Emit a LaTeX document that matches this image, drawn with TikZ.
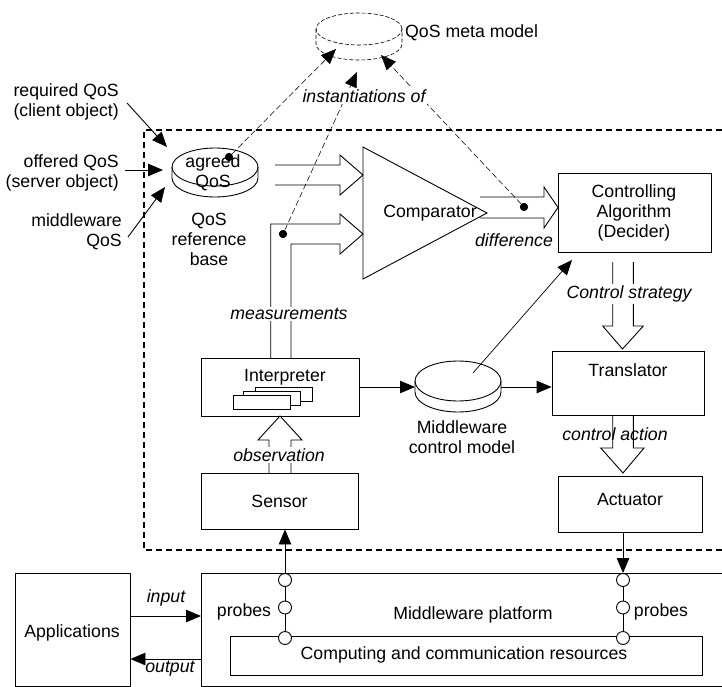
\documentclass[tikz,border=0pt]{standalone}
\usepackage{fontspec}
\setmainfont{Liberation Sans}
\usetikzlibrary{arrows.meta,calc}
\begin{document}
\begin{tikzpicture}[x=1pt,y=-1pt,
  every node/.style={font=\fontsize{17.7}{20}\selectfont, inner sep=0pt},
  ln/.style={line width=0.9pt},
  box/.style={draw, line width=0.9pt, inner sep=0pt},
  lbl/.style={font=\fontsize{17.7}{20}\selectfont\itshape},
  wlbl/.style={lbl, fill=white, inner sep=1.5pt},
  arr/.style={line width=0.9pt, -{Triangle[length=15pt,width=12.5pt]}},
  metaarr/.style={line width=0.55pt, dash pattern=on 6pt off 3pt, -{Triangle[length=15pt,width=12.5pt]}},
  metaline/.style={line width=0.6pt, dash pattern=on 4pt off 2pt},
  frame/.style={line width=1.6pt, dash pattern=on 6pt off 4pt},
  hollow/.style={line width=0.9pt, line join=miter},
  probe/.style={circle, draw, line width=0.9pt, fill=white, minimum size=13pt, inner sep=0pt},
  dot/.style={circle, fill=black, minimum size=8pt, inner sep=0pt}]
\useasboundingbox (0,0) rectangle (722,687);

% dashed frame of the control loop
\draw[frame] (722,130) -- (144,130) -- (144,550) -- (722,550);

% QoS meta model (dashed cylinder)
\draw[metaline] (359,29) ellipse [x radius=43pt, y radius=16pt];
\draw[metaline] (316,29) -- (316,44) arc[start angle=180,end angle=360,x radius=43pt,y radius=16pt] -- (402,29);
\node[anchor=west] (mmlabel) at (405,33) {QoS meta model};
\coordinate (mmL) at (336,49);
\coordinate (mmM) at (357,72);
\coordinate (mmR) at (381,55);

% agreed QoS cylinder
\draw[ln] (215,167) ellipse [x radius=43pt, y radius=19pt];
\draw[ln] (172,167) -- (172,178) arc[start angle=180,end angle=360,x radius=43pt,y radius=19pt] -- (258,167);
\node[align=center] (agreed) at (213,173) {agreed\\QoS};
\node[align=center] (qrb) at (209,239) {QoS\\reference\\base};

% inputs to the reference base
\node[align=right, anchor=east] (req) at (119,102) {required QoS\\(client object)};
\node[align=right, anchor=east] (off) at (119,173) {offered QoS\\(server object)};
\node[align=right, anchor=east] (mwq) at (122,232) {middleware\\QoS};
\coordinate (reqS) at (127,103);
\coordinate (offS) at (125,170);
\coordinate (mwqS) at (128,237);
\coordinate (agIn1) at (167,147);
\coordinate (agIn2) at (163,170);
\coordinate (agIn3) at (165,187);
\draw[arr] (reqS) -- (agIn1);
\draw[arr] (offS) -- (agIn2);
\draw[arr] (mwqS) -- (agIn3);

% comparator
\draw[ln] (363,147) -- (487,213) -- (363,279) -- cycle;
\node (comp) at (430,213) {Comparator};

% hollow arrow agreed QoS -> comparator
\draw[hollow] (275,165) -- (340,165) -- (340,155) -- (363,175) -- (340,195) -- (340,185) -- (275,185);

% hollow arrow measurements (interpreter -> comparator)
\draw[hollow] (270.7,358) -- (270.7,224) -- (340,224) -- (340,214) -- (363,234) -- (340,254) -- (340,244) -- (291,244) -- (291,358);
\node[wlbl] (meas) at (289,314) {measurements};

% controlling algorithm
\node[box, minimum width=153pt, minimum height=79pt] (ctrl) at (634.5,212.5) {};
\node[align=center] (ctrlT) at (634,213) {Controlling\\Algorithm\\(Decider)};

% difference hollow arrow
\draw[hollow] (480,197) -- (544,197) -- (544,187) -- (558,207.5) -- (544,228) -- (544,218) -- (480,218);
\node[lbl] (diff) at (514,240) {difference};

% control strategy hollow arrow
\draw[hollow] (612.7,262) -- (612.7,326) -- (602.7,326) -- (622.5,349) -- (643.3,326) -- (633.3,326) -- (633.3,262);
\node[wlbl] (cstrat) at (629,294) {Control strategy};

% translator
\node[box, minimum width=152pt, minimum height=64pt] (transl) at (628,383) {};
\node (translT) at (628,370) {Translator};

% control action hollow arrow
\draw[hollow] (612.7,415) -- (612.7,448) -- (600.7,448) -- (623,473) -- (644,448) -- (633.3,448) -- (633.3,415);
\node[lbl] (cact) at (615,434) {control action};

% actuator
\node[box, minimum width=144pt, minimum height=56pt] (act) at (630,504) {};
\node (actT) at (630,499) {Actuator};

% interpreter
\node[box, minimum width=158pt, minimum height=58pt] (interp) at (280,387) {};
\node (interpT) at (285,377) {Interpreter};
\draw[ln, fill=white] (255,387) rectangle (312,401);
\draw[ln, fill=white] (243,391) rectangle (300,405);
\draw[ln, fill=white] (233,395) rectangle (290,409);

% observation hollow arrow
\draw[hollow] (269,473) -- (269,440) -- (258,440) -- (280,416) -- (302,440) -- (291,440) -- (291,473);
\node[wlbl] (obs) at (279,455) {observation};

% sensor
\node[box, minimum width=157pt, minimum height=56pt] (sensor) at (279.5,501) {Sensor};

% middleware control model cylinder
\draw[ln, fill=white] (458,381) ellipse [x radius=43pt, y radius=20pt];
\draw[ln] (415,381) -- (415,392) arc[start angle=180,end angle=360,x radius=43pt,y radius=20pt] -- (501,381);
\node[align=center] (mcmT) at (462,437) {Middleware\\control model};
\coordinate (mcmW) at (415,387);
\coordinate (mcmE) at (501,387);
\coordinate (mcmC) at (473,373);
\coordinate (ctrlIn) at (572,260);
\draw[arr] (interp.east |- mcmW) -- (mcmW);
\draw[arr] (mcmE) -- (mcmE -| transl.west);
\draw[line width=0.7pt, -{Triangle[length=15pt,width=12.5pt]}] (mcmC) -- (ctrlIn);

% meta model links
\node[dot] (dotA) at (229,157) {};
\node[dot] (dotM) at (283,234) {};
\node[dot] (dotD) at (524,207) {};
\draw[metaarr] (dotA) -- (mmL);
\draw[metaarr] (dotM) -- (mmM);
\draw[metaarr] (dotD) -- (mmR);
\node[dot] at (dotA) {};
\node[dot] at (dotM) {};
\node[dot] at (dotD) {};
\node[wlbl] (inst) at (364,96) {instantiations of};

% applications
\node[box, minimum width=115pt, minimum height=113pt] (apps) at (72.5,629.5) {};
\node (appsT) at (72,633) {Applications};

% middleware platform
\draw[ln] (722,573) -- (201,573) -- (201,686) -- (722,686);
\node (mwp) at (473,615) {Middleware platform};
\node[box, minimum width=472pt, minimum height=39pt] (res) at (466,655.5) {};
\node (resT) at (464,655) {Computing and communication resources};

% input / output
\coordinate (mwIn) at (201,616);
\coordinate (mwOut) at (201,659);
\draw[arr] (apps.east |- mwIn) -- (mwIn);
\draw[arr] (mwOut) -- (mwOut -| apps.east);
\node[lbl] (inp) at (166,598) {input};
\node[lbl] (outp) at (170,669) {output};

% probes left
\draw[ln] (285,580) -- (285,638);
\node[probe] (pl1) at (285,580) {};
\node[probe] (pl2) at (285,607.5) {};
\node[probe] (pl3) at (285,638) {};
\node (plT) at (244,612) {probes};
\draw[arr] (pl1.north) -- (pl1 |- sensor.south);

% probes right
\draw[ln] (623,580) -- (623,638);
\node[probe] (pr1) at (623,580) {};
\node[probe] (pr2) at (623,607.5) {};
\node[probe] (pr3) at (623,638) {};
\node (prT) at (661,612) {probes};
\draw[arr] (act.south -| pr1) -- (pr1.north);
\end{tikzpicture}
\end{document}
